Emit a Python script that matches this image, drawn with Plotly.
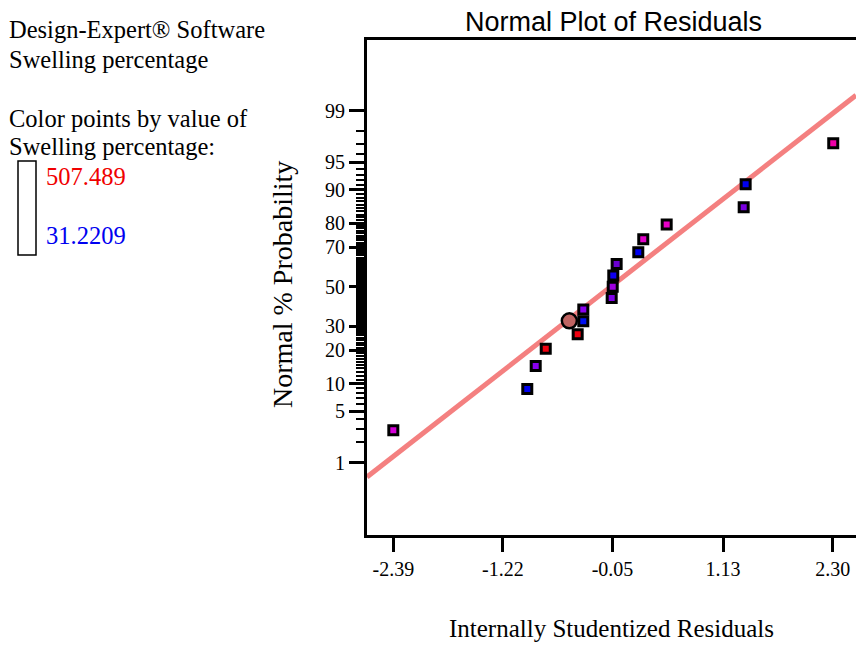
import plotly.graph_objects as go
from statistics import NormalDist

# ---- data ----
residuals = [-2.39, -0.96, -0.87, -0.763, -0.422, -0.362, -0.362, -0.059, -0.048,
             -0.042, -0.006, 0.225, 0.278, 0.528, 1.35, 1.371, 2.306]
probability = [2.9, 8.8, 14.7, 20.6, 26.5, 32.4, 38.2, 44.1, 50.0,
               55.9, 61.8, 67.6, 73.5, 79.4, 85.3, 91.2, 97.1]
point_colors = ["#D400D8", "#0000F0", "#8A00EE", "#F00010", "#F00010", "#0010F0",
                "#8A00EE", "#8000E8", "#A000E0", "#1000F0", "#6A00D0", "#0000F0",
                "#E000C8", "#E800C8", "#7A00E0", "#0000F0", "#F000A8"]
highlight_x = [-0.511]
highlight_p = [32.6]
line_x = [-2.671, 2.549]
line_p = [0.595, 99.43]

x_ticks = [-2.39, -1.22, -0.05, 1.13, 2.30]
x_ticktext = ["-2.39", "-1.22", "-0.05", "1.13", "2.30"]
y_major = [1, 5, 10, 20, 30, 50, 70, 80, 90, 95, 99]
y_minor = [p for p in range(1, 100) if p not in y_major]
x_range = [-2.671, 2.549]
z_range = [-3.281, 3.260]

legend_high = "507.489"
legend_low = "31.2209"

nd = NormalDist()
def z(p):
    return nd.inv_cdf(p / 100.0)

fig = go.Figure()
fig.add_trace(go.Scatter(
    x=line_x, y=[z(p) for p in line_p], mode="lines",
    line=dict(color="#F48080", width=5), hoverinfo="skip", showlegend=False))
fig.add_trace(go.Scatter(
    x=residuals, y=[z(p) for p in probability], mode="markers",
    marker=dict(symbol="square", size=9, color=point_colors,
                line=dict(color="black", width=3)),
    showlegend=False))
fig.add_trace(go.Scatter(
    x=highlight_x, y=[z(p) for p in highlight_p], mode="markers",
    marker=dict(symbol="circle", size=15, color="#C06462",
                line=dict(color="black", width=2.5)),
    showlegend=False))

serif = "Liberation Serif"
sans = "Liberation Sans"

fig.update_layout(
    width=856, height=645,
    margin=dict(l=367, r=0, t=40, b=110),
    paper_bgcolor="white", plot_bgcolor="white",
    showlegend=False,
    xaxis=dict(range=x_range, tickmode="array", tickvals=x_ticks, ticktext=x_ticktext,
               ticks="outside", ticklen=14, tickwidth=3, tickcolor="black",
               showline=True, linewidth=3, linecolor="black", mirror=True,
               showgrid=False, zeroline=False,
               tickfont=dict(family=serif, size=20, color="black")),
    yaxis=dict(range=z_range, tickmode="array", tickvals=[z(p) for p in y_major],
               ticktext=[str(p) for p in y_major],
               ticks="outside", ticklen=15, tickwidth=3, tickcolor="black",
               minor=dict(tickmode="array", tickvals=[z(p) for p in y_minor],
                          ticks="outside", ticklen=8, tickwidth=2, tickcolor="black",
                          showgrid=False),
               showline=True, linewidth=3, linecolor="black", mirror=False,
               showgrid=False, zeroline=False,
               tickfont=dict(family=serif, size=20, color="black")),
)

ann = []
def text(x, y, s, size, color="black", family=serif, xanchor="left", angle=0,
         yanchor="middle"):
    ann.append(dict(x=x, y=y, xref="paper", yref="paper", text=s, showarrow=False,
                    xanchor=xanchor, yanchor=yanchor, textangle=angle, borderpad=0,
                    font=dict(family=family, size=size, color=color)))

# paper coordinates helpers (pixels -> paper)
L, R, T, B = 367, 856, 40, 535
def px(xp):
    return (xp - L) / (R - L)
def py(yp):
    return (B - yp) / (B - T)

text(px(8), py(29), "Design-Expert® Software", 24.5)
text(px(8), py(59), "Swelling percentage", 24.5)
text(px(8), py(118), "Color points by value of", 24.5)
text(px(8), py(147), "Swelling percentage:", 24.5)
text(px(45), py(176), legend_high, 24.5, color="#F00000")
text(px(45), py(235), legend_low, 24.5, color="#0000F0")
text(px(282), py(285), "Normal % Probability", 28, xanchor="center", angle=-90)
text(px(611), py(643), "Internally Studentized Residuals", 25, xanchor="center",
     yanchor="bottom")
text(px(613), py(22), "Normal Plot of Residuals", 27, family=sans, xanchor="center")
fig.update_layout(annotations=ann)

fig.add_shape(type="rect", xref="paper", yref="paper",
              x0=px(18), x1=px(36), y0=py(161), y1=py(255),
              line=dict(color="black", width=1.5), fillcolor="white")

fig.write_html("out.html")
